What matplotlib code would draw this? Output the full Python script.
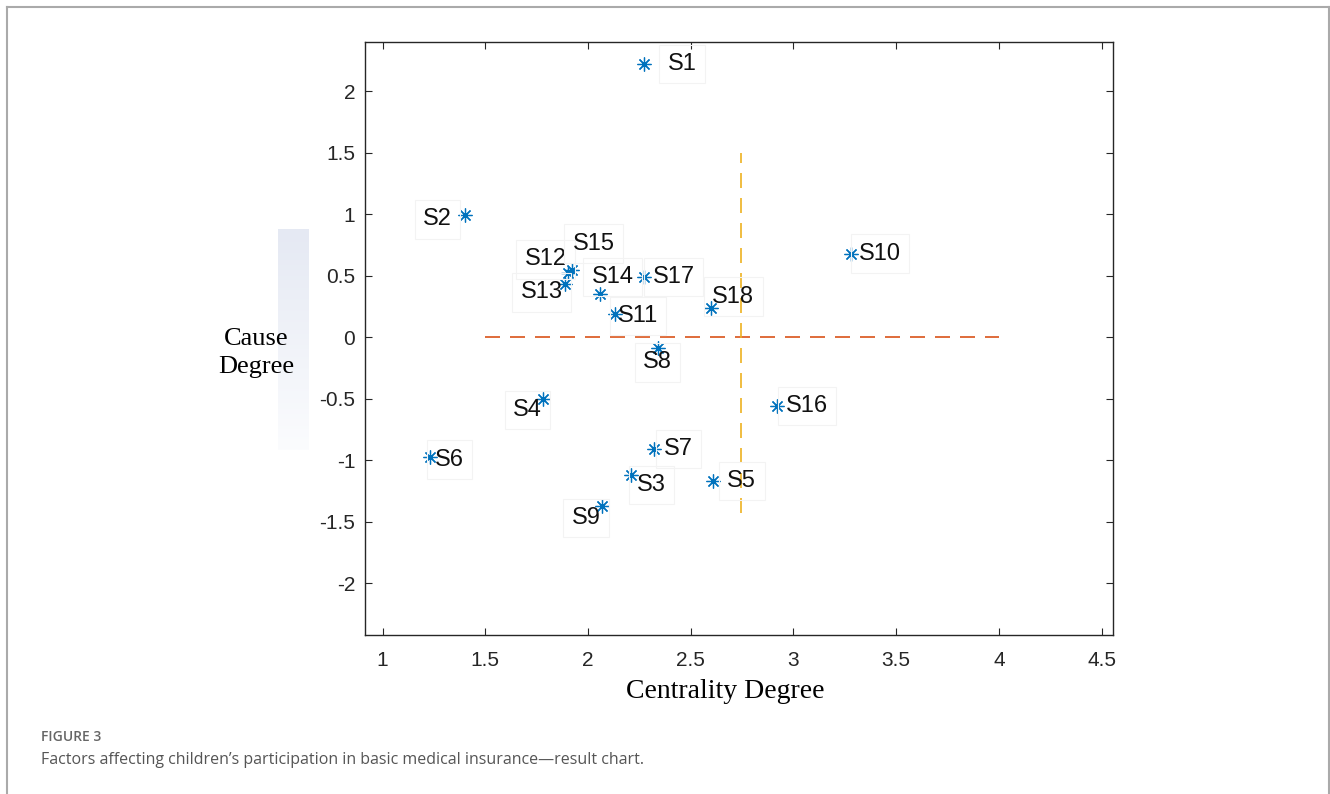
import matplotlib.pyplot as plt
import numpy as np

# factor labels and their (centrality, cause) degrees
labels = ["S1", "S2", "S3", "S4", "S5", "S6", "S7", "S8", "S9",
          "S10", "S11", "S12", "S13", "S14", "S15", "S16", "S17", "S18"]
centrality = [2.27, 1.40, 2.21, 1.78, 2.61, 1.23, 2.32, 2.34, 2.07,
              3.28, 2.13, 1.90, 1.89, 2.06, 1.92, 2.92, 2.27, 2.60]
cause = [2.22, 0.99, -1.12, -0.50, -1.17, -0.97, -0.91, -0.09, -1.37,
         0.68, 0.19, 0.52, 0.43, 0.35, 0.55, -0.56, 0.49, 0.24]

# reference lines
h_line_x = [1.5, 4.0]
h_line_y = [0, 0]
v_line_x = [2.745, 2.745]
v_line_y = [-1.43, 1.5]

x_ticks = [1, 1.5, 2, 2.5, 3, 3.5, 4, 4.5]
y_ticks = [-2, -1.5, -1, -0.5, 0, 0.5, 1, 1.5, 2]

# label placement: pixel offset from marker and horizontal alignment
label_pos = {
    "S1": (24, 0, "left"), "S2": (-13, -4, "right"), "S3": (6, -10, "left"),
    "S4": (-1, -11, "right"), "S5": (14, 0, "left"), "S6": (5, -3, "left"),
    "S7": (10, 0, "left"), "S8": (-15, -14, "left"), "S9": (-2, -12, "right"),
    "S10": (8, 0, "left"), "S11": (3, -2, "left"), "S12": (-1, 14, "right"),
    "S13": (-3, -8, "right"), "S14": (-9, 17, "left"), "S15": (1, 26, "left"),
    "S16": (9, 0, "left"), "S17": (9, 0, "left"), "S18": (1, 11, "left"),
}

W, H = 1330, 794
fig = plt.figure(figsize=(W / 100, H / 100), dpi=100)

# faint gradient strip left of the axis (artifact in the original)
gax = fig.add_axes([278 / W, 1 - 450 / H, 31 / W, 221 / H])
top = np.array([229, 233, 243]) / 255
bot = np.array([251, 252, 254]) / 255
t = np.linspace(0, 1, 100)[:, None]
grad = (top * (1 - t) + bot * t)[:, None, :]
gax.imshow(grad, aspect="auto", extent=[0, 1, 0, 1])
gax.axis("off")

ax = fig.add_axes([365 / W, 1 - 634.7 / H, (1113.3 - 365) / W, (634.7 - 42.3) / H])

ax.plot(h_line_x, h_line_y, color="#D95319", lw=1.2, dashes=(9, 6))
ax.plot(v_line_x, v_line_y, color="#EDB120", lw=1.2, dashes=(9, 6))
ax.plot(centrality, cause, linestyle="none", marker=(8, 2, 0), ms=10,
        mew=0.9, color="#0072BD")

for name, x, y in zip(labels, centrality, cause):
    dx, dy, ha = label_pos[name]
    ax.annotate(name, (x, y), xytext=(dx, dy), textcoords="offset pixels",
                ha=ha, va="center", fontsize=17, family="Liberation Sans",
                color="#111111",
                bbox=dict(boxstyle="square,pad=0.35", fc="none",
                          ec="#f3f3f3", lw=0.8))

ax.set_xlim(0.914, 4.557)
ax.set_ylim(-2.418, 2.398)
ax.set_xticks(x_ticks)
ax.set_xticklabels([f"{v:g}" for v in x_ticks])
ax.set_yticks(y_ticks)
ax.set_yticklabels([f"{v:g}" for v in y_ticks])
ax.tick_params(direction="in", top=True, right=True, length=5, width=0.8,
               color="#262626", labelsize=15, labelcolor="#262626")
ax.tick_params(axis="x", pad=12)
ax.tick_params(axis="y", pad=7)
for lab in ax.get_xticklabels() + ax.get_yticklabels():
    lab.set_family("Liberation Sans")
for sp in ax.spines.values():
    sp.set_color("#262626")
    sp.set_linewidth(1.0)

fig.text(725 / W, 1 - 692 / H, "Centrality Degree", ha="center", va="center",
         fontsize=20, family="Liberation Serif")
fig.text(256 / W, 1 - 353 / H, "Cause\nDegree", ha="center", va="center",
         fontsize=19, family="Liberation Serif", linespacing=1.3)

# caption
fig.text(41 / W, 1 - 737 / H, "FIGURE 3", ha="left", va="center",
         fontsize=10, family="Open Sans", weight="semibold", color="#666666")
fig.text(41 / W, 1 - 760 / H,
         "Factors affecting children\u2019s participation in basic medical insurance\u2014result chart.",
         ha="left", va="center", fontsize=11.5, family="Open Sans",
         color="#555555")

# page frame (top, left, right)
frame_kw = dict(transform=fig.transFigure, color="#aaaaaa", lw=1.5)
fig.add_artist(plt.Line2D([7 / W, 1329 / W], [1 - 7 / H, 1 - 7 / H], **frame_kw))
fig.add_artist(plt.Line2D([7 / W, 7 / W], [0, 1 - 7 / H], **frame_kw))
fig.add_artist(plt.Line2D([1329 / W, 1329 / W], [0, 1 - 7 / H], **frame_kw))

fig.savefig("out.png", dpi=100)
